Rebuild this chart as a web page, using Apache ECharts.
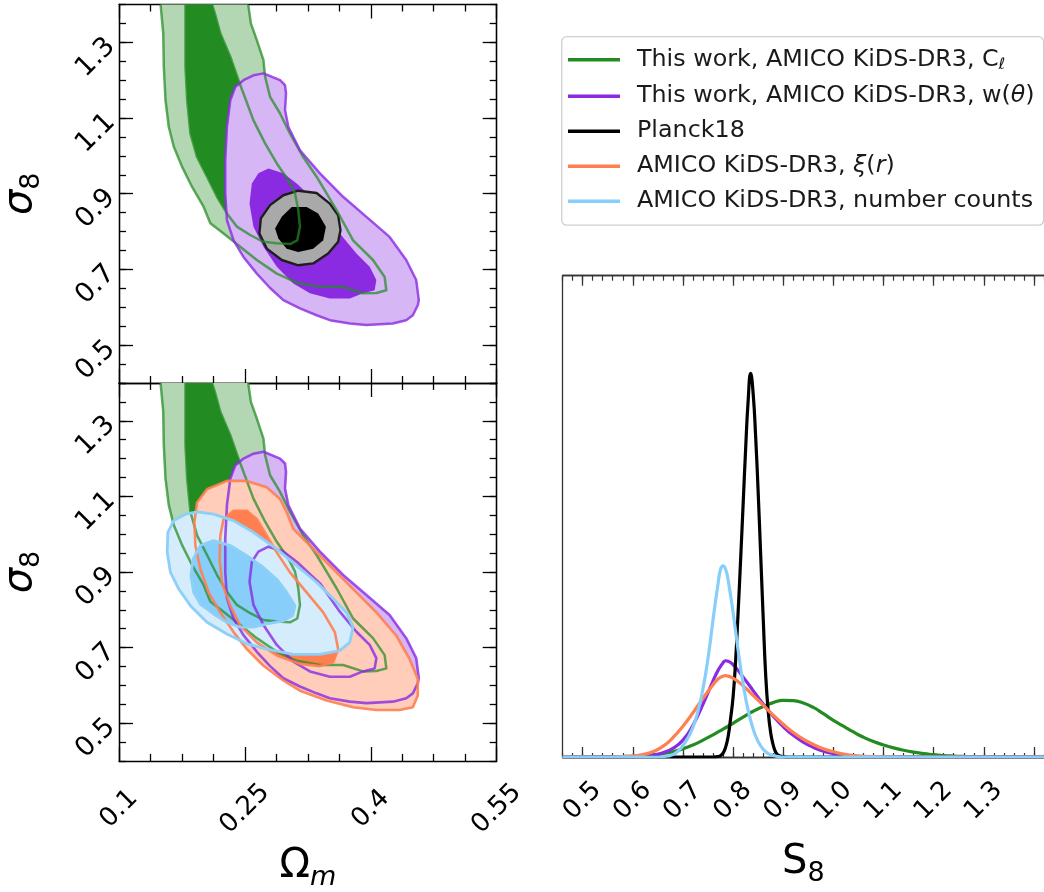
<!DOCTYPE html>
<html>
<head>
<meta charset="UTF-8">
<title>S8 constraints</title>
<style>
html,body{margin:0;padding:0;background:#fff;}
#main{width:1044px;height:892px;}
</style>
</head>
<body>
<div id="main"></div>
<script src="https://cdn.jsdelivr.net/npm/echarts@6/dist/echarts.min.js"></script>
<script>
// 2D contours, points are [Omega_m, sigma_8]
var greenOuter = [[0.1484,1.425],[0.1495,1.401],[0.1527,1.324],[0.1534,1.235],[0.1554,1.147],[0.1593,1.077],[0.1653,1.024],
  [0.1752,0.971],[0.1871,0.918],[0.2009,0.865],[0.2088,0.822],[0.2246,0.795],[0.2444,0.760],[0.2642,0.725],[0.2880,0.689],
  [0.3117,0.665],[0.3394,0.654],[0.3670,0.654],[0.3907,0.637],[0.4066,0.638],[0.4185,0.645],[0.4165,0.680],[0.4026,0.725],
  [0.3789,0.777],[0.3592,0.857],[0.3473,0.901],[0.3354,0.945],[0.3195,0.997],[0.3038,1.059],[0.2919,1.112],[0.2800,1.156],
  [0.2741,1.209],[0.2721,1.253],[0.2642,1.306],[0.2571,1.350],[0.2539,1.401],[0.2527,1.425]];
var greenInner = [[0.1792,1.425],[0.1792,1.401],[0.1792,1.324],[0.1792,1.235],[0.1812,1.147],[0.1851,1.059],[0.1930,0.997],
  [0.2049,0.945],[0.2168,0.892],[0.2286,0.848],[0.2405,0.813],[0.2563,0.791],[0.2721,0.773],[0.2880,0.769],[0.3038,0.767],
  [0.3124,0.777],[0.3156,0.813],[0.3136,0.857],[0.3097,0.901],[0.3017,0.936],[0.2880,0.980],[0.2741,1.033],[0.2602,1.094],
  [0.2483,1.165],[0.2424,1.200],[0.2326,1.262],[0.2207,1.324],[0.2148,1.372],[0.2108,1.401],[0.2085,1.425]];
var purpleOuter = [[0.2721,1.218],[0.2919,1.200],[0.2978,1.187],[0.2990,1.165],[0.2978,1.121],[0.3017,1.077],[0.3156,1.015],
  [0.3394,0.954],[0.3670,0.892],[0.3948,0.839],[0.4224,0.786],[0.4422,0.725],[0.4541,0.672],[0.4572,0.619],[0.4561,0.606],
  [0.4501,0.579],[0.4422,0.566],[0.4263,0.557],[0.3948,0.553],[0.3750,0.557],[0.3512,0.566],[0.3354,0.579],[0.3156,0.597],
  [0.2958,0.619],[0.2800,0.651],[0.2642,0.689],[0.2483,0.733],[0.2365,0.777],[0.2286,0.830],[0.2266,0.901],[0.2266,0.989],
  [0.2286,1.077],[0.2326,1.147],[0.2385,1.182],[0.2483,1.200],[0.2602,1.213]];
var purpleInner = [[0.2780,0.967],[0.2958,0.954],[0.3117,0.927],[0.3394,0.870],[0.3631,0.795],[0.3829,0.742],[0.3987,0.707],
  [0.4066,0.672],[0.4046,0.645],[0.3907,0.637],[0.3750,0.623],[0.3512,0.623],[0.3275,0.637],[0.3077,0.663],[0.2880,0.707],
  [0.2721,0.760],[0.2602,0.813],[0.2555,0.874],[0.2583,0.927],[0.2661,0.954]];
var planckOuter = [[0.3136,0.908],[0.3354,0.902],[0.3512,0.874],[0.3611,0.843],[0.3639,0.804],[0.3611,0.773],[0.3492,0.742],
  [0.3314,0.716],[0.3136,0.711],[0.2939,0.725],[0.2761,0.755],[0.2673,0.795],[0.2690,0.835],[0.2800,0.870],[0.2958,0.896]];
var planckInner = [[0.3058,0.865],[0.3236,0.865],[0.3373,0.848],[0.3465,0.813],[0.3433,0.777],[0.3314,0.755],[0.3136,0.746],
  [0.2998,0.755],[0.2899,0.782],[0.2860,0.808],[0.2939,0.839]];
var orangeOuter = [[0.1930,1.084],[0.2048,1.119],[0.2286,1.141],[0.2523,1.141],[0.2760,1.124],[0.2919,1.093],[0.2998,1.058],
  [0.3077,1.014],[0.3275,0.970],[0.3552,0.908],[0.3829,0.846],[0.4066,0.793],[0.4303,0.732],[0.4462,0.670],[0.4560,0.617],
  [0.4560,0.573],[0.4501,0.542],[0.4343,0.535],[0.4066,0.535],[0.3789,0.542],[0.3473,0.560],[0.3156,0.586],[0.2958,0.613],
  [0.2721,0.652],[0.2523,0.696],[0.2365,0.741],[0.2207,0.793],[0.2068,0.846],[0.1969,0.908],[0.1910,0.970],[0.1898,1.031]];
var orangeInner = [[0.2365,1.062],[0.2523,1.062],[0.2642,1.040],[0.2760,0.996],[0.2879,0.952],[0.3037,0.899],[0.3235,0.846],
  [0.3433,0.793],[0.3571,0.741],[0.3611,0.696],[0.3552,0.661],[0.3393,0.651],[0.3156,0.657],[0.2879,0.679],[0.2642,0.714],
  [0.2444,0.758],[0.2325,0.811],[0.2226,0.873],[0.2199,0.934],[0.2207,0.996],[0.2246,1.040]];
var blueOuter = [[0.1930,1.059],[0.2127,1.053],[0.2365,1.036],[0.2602,1.005],[0.2879,0.961],[0.3116,0.917],[0.3354,0.873],
  [0.3552,0.829],[0.3710,0.793],[0.3789,0.754],[0.3749,0.714],[0.3631,0.692],[0.3393,0.682],[0.3077,0.682],[0.2760,0.696],
  [0.2523,0.710],[0.2286,0.736],[0.2048,0.767],[0.1851,0.811],[0.1712,0.855],[0.1613,0.899],[0.1574,0.952],[0.1582,1.005],
  [0.1653,1.036],[0.1791,1.053]];
var blueInner = [[0.1969,0.970],[0.2127,0.983],[0.2325,0.970],[0.2523,0.943],[0.2721,0.912],[0.2879,0.881],[0.2998,0.846],
  [0.3097,0.811],[0.3069,0.785],[0.2958,0.771],[0.2760,0.763],[0.2602,0.754],[0.2444,0.754],[0.2286,0.767],[0.2127,0.789],
  [0.1969,0.815],[0.1890,0.846],[0.1858,0.890],[0.1882,0.934]];

// 1D posteriors, points are [S8, density as a fraction of panel height]
var s8Green = [[0.46,0],[0.50,0],[0.54,0.0003],[0.58,0.001],[0.60,0.0015],[0.62,0.0025],[0.64,0.004],[0.66,0.007],
  [0.68,0.011],[0.70,0.017],[0.72,0.025],[0.74,0.035],[0.76,0.046],[0.78,0.058],[0.80,0.07],[0.82,0.083],[0.84,0.095],
  [0.86,0.105],[0.88,0.113],[0.90,0.1175],[0.92,0.117],[0.94,0.112],[0.96,0.103],[0.98,0.09],[1.00,0.076],[1.02,0.064],
  [1.04,0.052],[1.06,0.041],[1.08,0.032],[1.10,0.025],[1.12,0.019],[1.14,0.014],[1.16,0.010],[1.18,0.007],[1.20,0.005],
  [1.22,0.003],[1.24,0.002],[1.26,0.0013],[1.28,0.0008],[1.30,0.0005],[1.34,0.0002],[1.38,0],[1.42,0]];
var s8Purple = [[0.46,0],[0.50,0],[0.56,0],[0.60,0.0005],[0.62,0.0015],[0.64,0.004],[0.66,0.009],[0.68,0.018],[0.70,0.035],
  [0.72,0.066],[0.74,0.11],[0.76,0.158],[0.77,0.18],[0.78,0.196],[0.785,0.2],[0.79,0.199],[0.80,0.192],[0.82,0.166],
  [0.84,0.138],[0.86,0.11],[0.88,0.085],[0.90,0.063],[0.92,0.045],[0.94,0.031],[0.96,0.02],[0.98,0.012],[1.00,0.007],
  [1.02,0.004],[1.04,0.002],[1.06,0.001],[1.10,0.0002],[1.14,0],[1.2,0],[1.3,0],[1.42,0]];
var s8Planck = [[0.46,0],[0.55,0],[0.65,0],[0.72,0],[0.76,0],[0.77,0.001],[0.775,0.003],[0.78,0.008],[0.785,0.02],
  [0.79,0.042],[0.795,0.08],[0.80,0.125],[0.805,0.2],[0.81,0.3],[0.815,0.41],[0.82,0.525],[0.825,0.64],[0.83,0.74],
  [0.835,0.797],[0.84,0.755],[0.845,0.665],[0.85,0.55],[0.855,0.42],[0.86,0.29],[0.865,0.17],[0.87,0.095],[0.875,0.05],
  [0.88,0.025],[0.885,0.01],[0.89,0.004],[0.90,0.001],[0.91,0],[0.95,0],[1.05,0],[1.2,0],[1.42,0]];
var s8Orange = [[0.46,0],[0.50,0],[0.54,0],[0.58,0.001],[0.60,0.002],[0.62,0.005],[0.64,0.011],[0.66,0.022],[0.68,0.04],
  [0.70,0.064],[0.72,0.092],[0.74,0.122],[0.76,0.15],[0.77,0.162],[0.78,0.168],[0.785,0.169],[0.79,0.168],[0.80,0.164],
  [0.82,0.148],[0.84,0.128],[0.86,0.108],[0.88,0.087],[0.90,0.068],[0.92,0.051],[0.94,0.037],[0.96,0.026],[0.98,0.017],
  [1.00,0.011],[1.02,0.006],[1.04,0.003],[1.06,0.0015],[1.10,0.0003],[1.14,0],[1.2,0],[1.3,0],[1.42,0]];
var s8Blue = [[0.46,0],[0.52,0],[0.58,0],[0.62,0],[0.65,0],[0.66,0.001],[0.67,0.002],[0.68,0.005],[0.69,0.012],[0.70,0.024],
  [0.71,0.04],[0.72,0.062],[0.73,0.095],[0.74,0.142],[0.75,0.205],[0.76,0.285],[0.77,0.36],[0.775,0.39],[0.78,0.397],
  [0.785,0.39],[0.79,0.368],[0.80,0.3],[0.81,0.222],[0.82,0.152],[0.83,0.097],[0.84,0.058],[0.85,0.032],[0.86,0.016],
  [0.87,0.007],[0.88,0.003],[0.89,0.001],[0.90,0],[0.95,0],[1.05,0],[1.2,0],[1.42,0]];

// tick labels
var sigma8Ticks = [0.5, 0.7, 0.9, 1.1, 1.3];
var s8Ticks = [0.5, 0.6, 0.7, 0.8, 0.9, 1.0, 1.1, 1.2, 1.3];
var s8Major = [0.5, 0.6, 0.7, 0.8, 0.9, 1.0, 1.1, 1.2, 1.3, 1.4];

var names = ['This work, AMICO KiDS-DR3, Cℓ', 'This work, AMICO KiDS-DR3, w(θ)', 'Planck18',
  'AMICO KiDS-DR3, ξ(r)', 'AMICO KiDS-DR3, number counts'];
var legendText = {};
legendText[names[0]] = '{h|This work, AMICO KiDS-DR3, C}{sub|ℓ}';
legendText[names[1]] = '{h|This work, AMICO KiDS-DR3, w(}{i|θ}{t|)}';
legendText[names[2]] = '{h|Planck18}';
legendText[names[3]] = '{h|AMICO KiDS-DR3, }{i|ξ}{t|(}{i|r}{t|)}';
legendText[names[4]] = '{h|AMICO KiDS-DR3, number counts}';

var FONT = 'DejaVu Sans';
var chart = echarts.init(document.getElementById('main'));

function poly(pts, xi, yi, fill, stroke, lw, z) {
  return {
    type: 'custom', xAxisIndex: xi, yAxisIndex: yi, clip: true, silent: true, z: z,
    data: pts,
    renderItem: function (params, api) {
      if (params.dataIndex !== 0) return;
      var p = pts.map(function (d) { return api.coord(d); });
      return {
        type: 'polygon', shape: { points: p },
        style: { fill: fill || 'none', stroke: stroke || 'none', lineWidth: lw || 0, lineJoin: 'round' }
      };
    }
  };
}

var line = { color: '#000', width: 1.3 };
var nameRich = {
  s: { fontSize: 40, fontStyle: 'italic', fontFamily: FONT, color: '#000', lineHeight: 48 },
  o: { fontSize: 40, fontFamily: FONT, color: '#000', lineHeight: 48 },
  b: { fontSize: 27, fontFamily: FONT, color: '#000', lineHeight: 30, verticalAlign: 'bottom' },
  m: { fontSize: 27, fontStyle: 'italic', fontFamily: FONT, color: '#000', lineHeight: 30, verticalAlign: 'bottom' }
};

function omegaAxis(gi, pos, labels) {
  return {
    type: 'value', gridIndex: gi, position: pos, min: 0.1, max: 0.55, interval: 0.15,
    axisLine: { onZero: false, lineStyle: line },
    axisTick: { inside: true, length: 14, lineStyle: line },
    minorTick: { show: true, splitNumber: 4, length: 7, lineStyle: line },
    splitLine: { show: false },
    axisLabel: {
      show: labels, rotate: 45, align: 'center', verticalAlign: 'middle', margin: 48,
      fontSize: 26, fontFamily: FONT, color: '#000',
      formatter: function (v) { return String(+v.toFixed(2)); }
    },
    name: labels ? '{o|Ω}{m|m}' : '', nameLocation: 'middle', nameGap: 82,
    nameTextStyle: { rich: nameRich }
  };
}
function sigmaMinor(gi, pos) {
  return {
    type: 'value', gridIndex: gi, position: pos, min: 0.4, max: 1.4, interval: 0.05,
    axisLine: { onZero: false, lineStyle: line },
    axisTick: { inside: true, length: 7, lineStyle: line },
    axisLabel: { show: false }, splitLine: { show: false }
  };
}
function sigmaMajor(gi, pos, labels) {
  return {
    type: 'value', gridIndex: gi, position: pos, min: 0.4, max: 1.4,
    axisLine: { onZero: false, lineStyle: line },
    axisTick: { inside: true, length: 14, lineStyle: line, customValues: sigma8Ticks },
    axisLabel: {
      show: labels, customValues: sigma8Ticks, rotate: 45, margin: 8,
      fontSize: 27, fontFamily: FONT, color: '#000',
      formatter: function (v) { return v.toFixed(1); }
    },
    splitLine: { show: false },
    name: labels ? '{s|σ}{b|8}' : '', nameLocation: 'middle', nameGap: 74,
    nameTextStyle: { rich: nameRich }
  };
}
function s8Minor(pos, len) {
  return {
    type: 'value', gridIndex: 2, position: pos, min: 0.46, max: 1.42, interval: 0.02,
    axisLine: { onZero: false, lineStyle: { color: '#333', width: 1.3 } },
    axisTick: { inside: true, length: len, lineStyle: { color: '#333', width: 1.2 } },
    axisLabel: { show: false }, splitLine: { show: false }
  };
}
function s8MajorAxis(pos, labels) {
  return {
    type: 'value', gridIndex: 2, position: pos, min: 0.46, max: 1.42,
    axisLine: { onZero: false, lineStyle: { color: '#333', width: 1.3 } },
    axisTick: { inside: true, length: 10, lineStyle: { color: '#333', width: 1.3 }, customValues: s8Major },
    axisLabel: {
      show: labels, customValues: s8Ticks, rotate: 45, align: 'center', verticalAlign: 'middle', margin: 44,
      fontSize: 26, fontFamily: FONT, color: '#000',
      formatter: function (v) { return v.toFixed(1); }
    },
    splitLine: { show: false },
    name: labels ? '{o|S}{b|8}' : '', nameLocation: 'middle', nameGap: 82,
    nameTextStyle: { rich: nameRich }
  };
}

var gLine = 'rgba(34,139,34,0.72)', pLine = 'rgba(138,43,226,0.8)';
var series = [];
// top panel
series.push(poly(greenOuter, 0, 0, '#b3d7b3', null, 0, 1));
series.push(poly(greenInner, 0, 0, '#228b22', null, 0, 2));
series.push(poly(purpleOuter, 0, 0, '#d6b6f5', null, 0, 3));
series.push(poly(purpleInner, 0, 0, '#8a2be2', null, 0, 4));
series.push(poly(planckOuter, 0, 0, '#a9a9a9', null, 0, 5));
series.push(poly(planckInner, 0, 0, '#000', null, 0, 6));
series.push(poly(planckOuter, 0, 0, null, '#1e1e1e', 2.4, 7));
series.push(poly(greenOuter, 0, 0, null, gLine, 2.5, 8));
series.push(poly(greenInner, 0, 0, null, gLine, 2.5, 8));
series.push(poly(purpleOuter, 0, 0, null, pLine, 2.5, 8));
// bottom panel
series.push(poly(greenOuter, 2, 4, '#b3d7b3', null, 0, 1));
series.push(poly(greenInner, 2, 4, '#228b22', null, 0, 2));
series.push(poly(purpleOuter, 2, 4, '#d6b6f5', null, 0, 3));
series.push(poly(orangeOuter, 2, 4, '#ffcdb9', null, 0, 4));
series.push(poly(orangeInner, 2, 4, '#ff7f50', null, 0, 5));
series.push(poly(blueOuter, 2, 4, '#d4ecfb', null, 0, 6));
series.push(poly(blueInner, 2, 4, '#87cefa', null, 0, 7));
series.push(poly(greenOuter, 2, 4, null, gLine, 2.5, 8));
series.push(poly(greenInner, 2, 4, null, gLine, 2.5, 8));
series.push(poly(purpleOuter, 2, 4, null, pLine, 2.6, 8));
series.push(poly(purpleInner, 2, 4, null, pLine, 2.6, 8));
series.push(poly(orangeOuter, 2, 4, null, 'rgba(255,127,80,0.9)', 2.6, 9));
series.push(poly(orangeInner, 2, 4, null, 'rgba(255,127,80,0.9)', 2.6, 9));
series.push(poly(blueOuter, 2, 4, null, '#8ccff8', 2.8, 10));
series.push(poly(blueInner, 2, 4, null, '#8ccff8', 2.8, 10));

// 1D posteriors
var curves = [s8Green, s8Purple, s8Planck, s8Orange, s8Blue];
var colors = ['#228b22', '#8a2be2', '#000000', '#ff7f50', '#87cefa'];
for (var i = 0; i < curves.length; i++) {
  series.push({
    type: 'line', name: names[i], xAxisIndex: 4, yAxisIndex: 8, data: curves[i],
    showSymbol: false, symbol: 'none', smooth: 0.5, color: colors[i],
    lineStyle: { width: 3.2, color: colors[i] }, z: 3 + i, clip: true, silent: true
  });
}

chart.setOption({
  animation: false,
  backgroundColor: '#fff',
  grid: [
    { left: 118.3, top: 4.5, width: 378.4, height: 378.5 },
    { left: 118.3, top: 383, width: 378.4, height: 378.8 },
    { left: 562.6, top: 275.7, width: 496.3, height: 486 }
  ],
  xAxis: [
    omegaAxis(0, 'bottom', false), omegaAxis(0, 'top', false),
    omegaAxis(1, 'bottom', true), omegaAxis(1, 'top', false),
    s8Minor('bottom', 4), s8MajorAxis('bottom', true),
    s8Minor('top', 5), s8MajorAxis('top', false)
  ],
  yAxis: [
    sigmaMinor(0, 'left'), sigmaMajor(0, 'left', true), sigmaMinor(0, 'right'), sigmaMajor(0, 'right', false),
    sigmaMinor(1, 'left'), sigmaMajor(1, 'left', true), sigmaMinor(1, 'right'), sigmaMajor(1, 'right', false),
    {
      type: 'value', gridIndex: 2, min: 0, max: 1,
      axisLine: { show: true, onZero: false, lineStyle: { color: '#333', width: 1.3 } },
      axisTick: { show: false }, axisLabel: { show: false }, splitLine: { show: false }
    }
  ],
  legend: {
    data: names, orient: 'vertical', left: 561.7, top: 36.7,
    icon: 'rect', itemWidth: 52, itemHeight: 3.5, itemGap: 11,
    padding: [11, 9, 12, 6.3],
    backgroundColor: '#fff', borderColor: '#cfcfcf', borderWidth: 1.3, borderRadius: 5,
    selectedMode: false,
    formatter: function (n) { return legendText[n]; },
    textStyle: {
      color: '#1a1a1a', fontFamily: FONT, fontSize: 23.8,
      rich: {
        h: { fontSize: 23.8, fontFamily: FONT, color: '#1a1a1a', lineHeight: 27, padding: [0, 0, 0, 12] },
        t: { fontSize: 23.8, fontFamily: FONT, color: '#1a1a1a', lineHeight: 27 },
        i: { fontSize: 23.8, fontFamily: FONT, fontStyle: 'italic', color: '#1a1a1a', lineHeight: 27 },
        sub: { fontSize: 16, fontFamily: FONT, fontStyle: 'italic', color: '#1a1a1a', lineHeight: 18, verticalAlign: 'bottom' }
      }
    }
  },
  series: series
});
</script>
</body>
</html>
